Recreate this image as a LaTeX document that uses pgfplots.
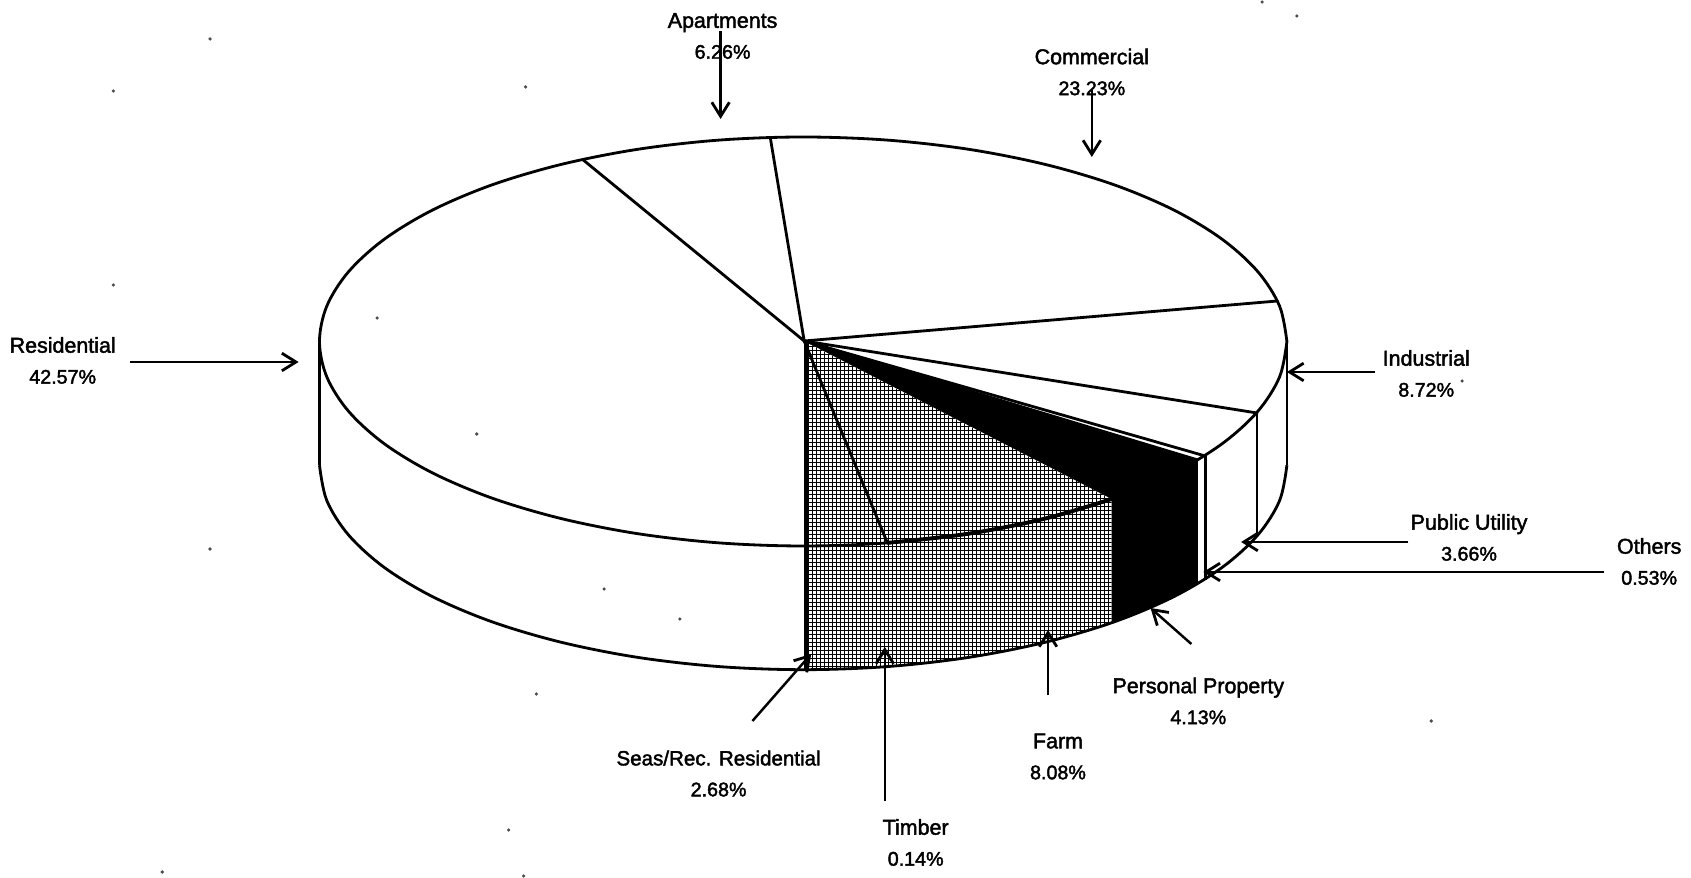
\documentclass[border=0pt]{standalone}
\usepackage{fontspec}
\usepackage{pgfplots}
\pgfplotsset{compat=1.18}
\usetikzlibrary{arrows.meta,patterns.meta}
\newfontfamily\labfont[FakeBold=2]{Liberation Sans}
\tikzset{lab/.style={font=\labfont\fontsize{6.1}{8.8}\selectfont, align=center, inner sep=0pt}}
\newcommand\pct[1]{{\fontsize{5.6}{8.8}\selectfont #1\%}}

\begin{document}
\begin{tikzpicture}
\begin{axis}[
    scale only axis,
    width=16.91cm, height=8.78cm,
    xmin=0, xmax=1699, ymin=0, ymax=878,
    y dir=reverse,
    hide axis,
    clip=false,
    outline/.style={black, line width=0.8pt, no marks},
    curve/.style={outline, smooth, tension=0.55},
    spoke/.style={outline, line cap=round},
    lead/.style={black, line width=0.7pt, no marks, -{Straight Barb[length=4pt,width=5pt,line width=0.8pt]}},
    grid h/.style={draw=none, no marks, pattern={Lines[angle=0,distance=1.1381pt,line width=0.26pt]}},
    grid v/.style={draw=none, no marks, pattern={Lines[angle=90,distance=1.1381pt,line width=0.26pt]}},
    ]

% keep the whole page in the bounding box
\path (axis cs:0,0) rectangle (axis cs:1699,878);

% cross hatched slices (Farm, Timber, Seas/Rec.)
\addplot[grid h] coordinates {(808,341) (1117,499) (1117,622.7) (1050,642.3) (973.2,657.4) (891.4,666.6) (808,669.7)} --cycle;
\addplot[grid v] coordinates {(808,341) (1117,499) (1117,622.7) (1050,642.3) (973.2,657.4) (891.4,666.6) (808,669.7)} --cycle;

% personal property, solid
\addplot[draw=none, fill=black, no marks] coordinates {(808,341) (1203.5,460) (1203.5,583.5) (1179.3,596.7) (1119.4,621.9) (1117,622.7) (1117,499)} --cycle;

% top face
\addplot[curve] coordinates {
(1293,341.5) (1285.6,377) (1263.7,411.4) (1227.9,443.75) (1179.3,473) (1119.4,498.2)
(1050,518.6) (973.2,533.7) (891.4,542.9) (807,546) (722.6,542.9) (640.8,533.7)
(564,518.6) (494.6,498.2) (434.7,473) (386.1,443.75) (350.3,411.4) (328.4,377)
(321,341.5) (328.4,306) (350.3,271.6) (386.1,239.25) (434.7,210) (494.6,184.8)
(564,164.4) (640.8,149.3) (722.6,140.1) (807,137) (891.4,140.1) (973.2,149.3)
(1050,164.4) (1119.4,184.8) (1179.3,210) (1227.9,239.25) (1263.7,271.6) (1285.6,306)
(1293,341.5)};

% rim of the top face over the hatching, heavier
\addplot[curve, line width=1.1pt] coordinates {(1117,499) (1050,518.6) (973.2,533.7) (891.4,542.9)};

% lower rim
\addplot[curve] coordinates {
(321,465.2) (328.4,500.7) (350.3,535.1) (386.1,567.45) (434.7,596.7) (494.6,621.9)
(564,642.3) (640.8,657.4) (722.6,666.6) (807,669.7) (891.4,666.6) (973.2,657.4)
(1050,642.3) (1119.4,621.9) (1179.3,596.7) (1227.9,567.45) (1263.7,535.1)
(1285.6,500.7) (1293,465.2)};

% wall edges
\addplot[outline] coordinates {(321,341.5) (321,465.2)};
\addplot[outline] coordinates {(1293,341.5) (1293,465.2)};
\addplot[outline] coordinates {(1263,413) (1263,537)};
\addplot[outline] coordinates {(1211,456) (1211,580)};
\addplot[outline, line width=1.1pt] coordinates {(810,341) (810,669.7)};

% spokes
\addplot[spoke] coordinates {(808,341) (586,160)};
\addplot[spoke] coordinates {(808,341) (774,138)};
\addplot[spoke] coordinates {(808,341) (1283.5,301)};
\addplot[spoke] coordinates {(808,341) (1263,413)};
\addplot[spoke] coordinates {(808,341) (1211,456)};
\addplot[spoke] coordinates {(808,341) (1203.5,460)};
\addplot[spoke] coordinates {(808,341) (891,541.5)};

% leader arrows
\addplot[lead] coordinates {(724,31) (724,119)};
\addplot[lead] coordinates {(1097,90) (1097,157)};
\addplot[lead] coordinates {(131,362) (300,362)};
\addplot[lead] coordinates {(1382,372) (1293,372)};
\addplot[lead] coordinates {(1415,542) (1247,542)};
\addplot[lead] coordinates {(1612,572) (1209,572)};
\addplot[lead] coordinates {(1197,644) (1156,608)};
\addplot[lead] coordinates {(1053,695.5) (1053,630)};
\addplot[lead] coordinates {(889,801) (889,647)};
\addplot[lead] coordinates {(756,721) (815,654)};

% scanner specks
\addplot[only marks, mark=*, mark size=0.22pt, black!70] coordinates {
(211,39) (114,91) (528,87) (1268,2) (1303,16) (379,318) (479,434) (211,549)
(114,285) (607,589) (683,619) (539,694) (1438,721) (511,830) (163,872) (526,876) (1469,381)};

\node[lab] at (axis cs:726,36) {Apartments\\\pct{6.26}};
\node[lab] at (axis cs:1097,72) {Commercial\\\pct{23.23}};
\node[lab] at (axis cs:63,360.5) {Residential\\\pct{42.57}};
\node[lab] at (axis cs:1433,373.5) {Industrial\\\pct{8.72}};
\node[lab] at (axis cs:1476,537.5) {Public Utility\\\pct{3.66}};
\node[lab] at (axis cs:1657,561.5) {Others\\\pct{0.53}};
\node[lab] at (axis cs:1204,701) {Personal Property\\\pct{4.13}};
\node[lab] at (axis cs:1063,756.5) {Farm\\\pct{8.08}};
\node[lab] at (axis cs:722,773.5) {{\fontsize{5.85}{8.8}\selectfont Seas/Rec. Residential}\\\pct{2.68}};
\node[lab] at (axis cs:920,842.5) {Timber\\\pct{0.14}};
\end{axis}
\end{tikzpicture}
\end{document}
